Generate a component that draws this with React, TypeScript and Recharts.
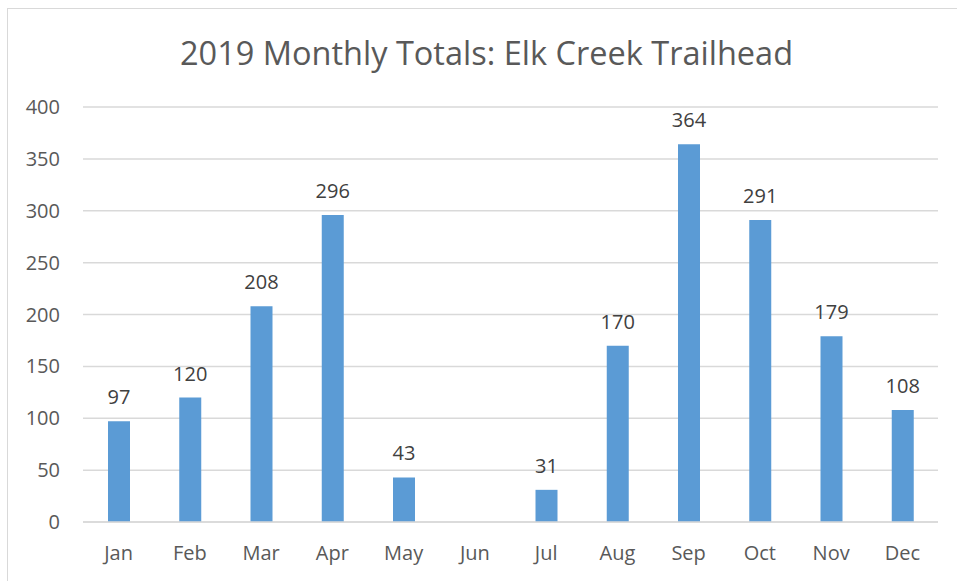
import { BarChart, Bar, XAxis, YAxis, CartesianGrid, LabelList } from "recharts";

const months = ["Jan", "Feb", "Mar", "Apr", "May", "Jun", "Jul", "Aug", "Sep", "Oct", "Nov", "Dec"];
const totals: (number | null)[] = [97, 120, 208, 296, 43, null, 31, 170, 364, 291, 179, 108];
const yTicks = [0, 50, 100, 150, 200, 250, 300, 350, 400];

const data = months.map((m, i) => ({ month: m, total: totals[i] }));

const font = "'Open Sans', sans-serif";

export default function App() {
  return (
    <div style={{ position: "absolute", left: 0, top: 0, width: 957, height: 581, overflow: "hidden", background: "#fff" }}>
      <div
        style={{
          position: "absolute",
          left: 7,
          top: 8,
          width: 990,
          height: 600,
          border: "1.5px solid #d9d9d9",
          boxSizing: "border-box",
        }}
      />
      <svg width={957} height={581} style={{ position: "absolute", left: 0, top: 0 }}>
        <text x={486.5} y={65} textAnchor="middle" fontFamily={font} fontSize={32.5} fill="#595959">
          2019 Monthly Totals: Elk Creek Trailhead
        </text>
      </svg>
      <div style={{ position: "absolute", left: 0, top: 0 }}>
        <BarChart width={957} height={581} data={data} margin={{ top: 107, right: 19, bottom: 19, left: 0 }}>
          <CartesianGrid vertical={false} stroke="#d9d9d9" strokeWidth={1.5} />
          <XAxis
            dataKey="month"
            height={40}
            tickLine={false}
            tickSize={0}
            tickMargin={24}
            axisLine={{ stroke: "#d9d9d9", strokeWidth: 1.5 }}
            tick={{ fill: "#595959", fontSize: 20, fontFamily: font }}
          />
          <YAxis
            width={83}
            domain={[0, 400]}
            ticks={yTicks}
            interval={0}
            axisLine={false}
            tickLine={false}
            tickSize={0}
            tickMargin={23}
            tick={{ fill: "#595959", fontSize: 20, fontFamily: font }}
          />
          <Bar dataKey="total" fill="#5b9bd5" barSize={22} isAnimationActive={false}>
            <LabelList
              dataKey="total"
              position="top"
              offset={17}
              formatter={(v: any) => (v == null ? "" : v)}
              style={{ fill: "#404040", fontSize: 20, fontFamily: font }}
            />
          </Bar>
        </BarChart>
      </div>
    </div>
  );
}
